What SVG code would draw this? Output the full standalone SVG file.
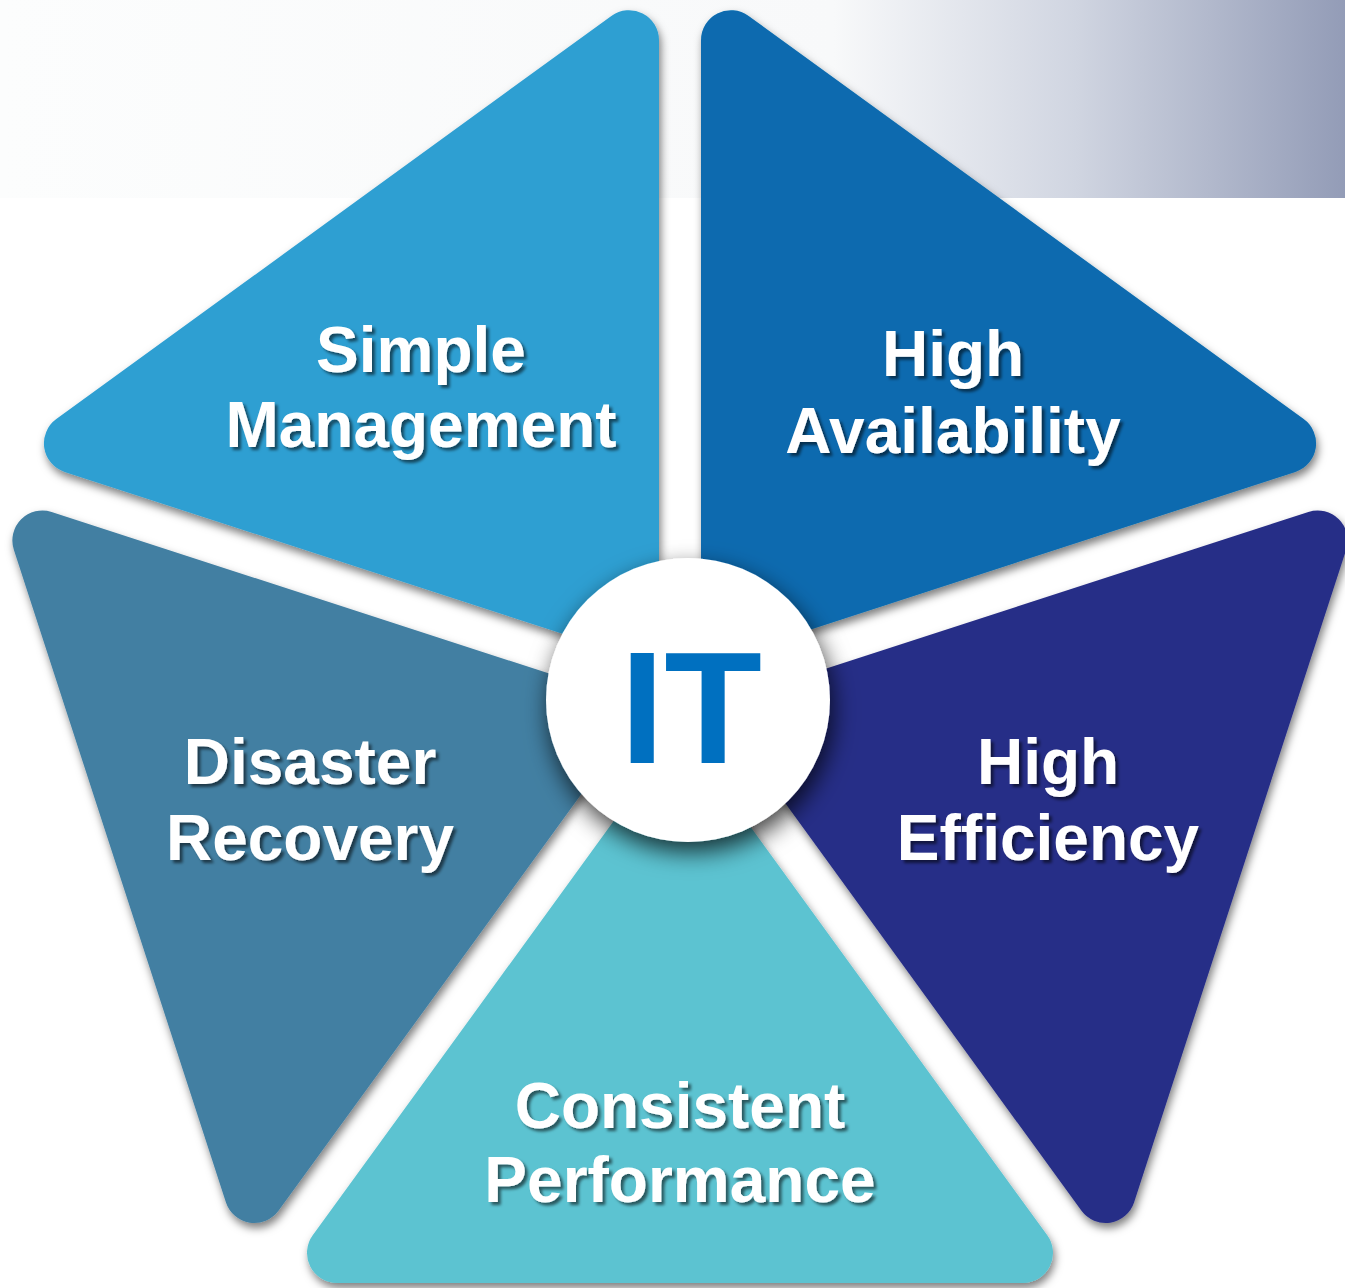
<svg xmlns="http://www.w3.org/2000/svg" width="1345" height="1288" viewBox="0 0 1345 1288">
  <defs>
    <linearGradient id="band" x1="0" y1="0" x2="1" y2="0">
      <stop offset="0" stop-color="#FCFDFD"/>
      <stop offset="0.62" stop-color="#F8F9FA"/>
      <stop offset="0.8" stop-color="#D0D5E1"/>
      <stop offset="1" stop-color="#939CB7"/>
    </linearGradient>
    <filter id="pieceShadow" x="-10%" y="-10%" width="120%" height="120%">
      <feDropShadow dx="2" dy="5" stdDeviation="4" flood-color="#000" flood-opacity="0.5"/>
    </filter>
    <filter id="circleShadow" x="-30%" y="-30%" width="160%" height="170%">
      <feDropShadow dx="3" dy="10" stdDeviation="12" flood-color="#000" flood-opacity="0.75"/>
    </filter>
    <filter id="textShadow" x="-10%" y="-20%" width="120%" height="140%">
      <feDropShadow dx="3" dy="3" stdDeviation="1.5" flood-color="#000" flood-opacity="0.55"/>
    </filter>
  </defs>
  <style>
    .piece { filter: url(#pieceShadow); }
    .label { font-family: "Liberation Sans", Arial, sans-serif; font-weight: bold; font-size: 64px; fill: #FFFFFF; text-anchor: middle; filter: url(#textShadow); }
    .it { font-family: "Liberation Sans", Arial, sans-serif; font-weight: bold; font-size: 160px; fill: #0070C0; text-anchor: middle; }
  </style>

  <rect x="0" y="0" width="1345" height="1288" fill="#FFFFFF"/>
  <rect x="0" y="0" width="1345" height="198" fill="url(#band)"/>

  <g id="simple-management">
    <path class="piece" fill="#2F9FD2" d="M659,665.1 L64.6,471.9 A30,30 0 0 1 56.3,419.1 L611.35,15.9 A30,30 0 0 1 659,40.2 Z"/>
    <text class="label" x="421" y="372">Simple</text>
    <text class="label" x="421" y="447">Management</text>
  </g>

  <g id="high-availability">
    <path class="piece" fill="#086BAF" d="M701,665.1 L701,40.2 A30,30 0 0 1 748.65,15.9 L1303.7,419.1 A30,30 0 0 1 1295.4,471.9 Z"/>
    <text class="label" x="953" y="376">High</text>
    <text class="label" x="953" y="453">Availability</text>
  </g>

  <g id="high-efficiency">
    <path class="piece" fill="#282E87" d="M713.95,705.03 L1308.37,511.93 A30,30 0 0 1 1346.17,549.73 L1134.13,1202.27 A30,30 0 0 1 1081.31,1210.62 Z"/>
    <text class="label" x="1048" y="784">High</text>
    <text class="label" x="1048" y="860">Efficiency</text>
  </g>

  <g id="consistent-performance">
    <path class="piece" fill="#5BC3D1" d="M680,729.7 L1047.28,1235.35 A30,30 0 0 1 1023,1283 L337,1283 A30,30 0 0 1 312.72,1235.35 Z"/>
    <text class="label" x="680" y="1128">Consistent</text>
    <text class="label" x="680" y="1202">Performance</text>
  </g>

  <g id="disaster-recovery">
    <path class="piece" fill="#427FA2" d="M646.05,705.03 L278.69,1210.62 A30,30 0 0 1 225.87,1202.27 L13.83,549.73 A30,30 0 0 1 51.63,511.93 Z"/>
    <text class="label" x="310" y="784">Disaster</text>
    <text class="label" x="310" y="860">Recovery</text>
  </g>

  <g id="it-center">
    <circle cx="688" cy="700" r="142" fill="#FFFFFF" filter="url(#circleShadow)"/>
    <text class="it" x="691" y="763">IT</text>
  </g>
</svg>
